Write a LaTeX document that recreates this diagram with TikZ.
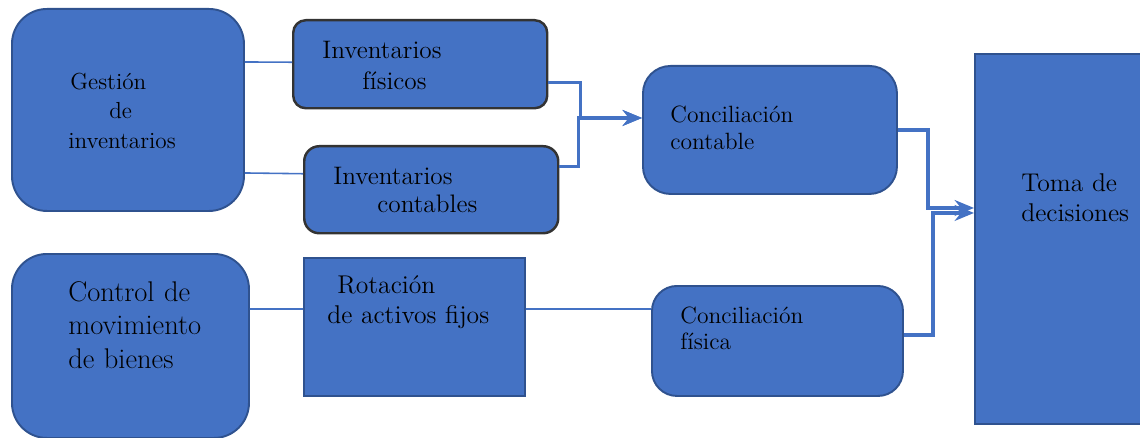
\documentclass[tikz,border=0pt]{standalone}
\usetikzlibrary{calc,arrows.meta}
\definecolor{boxfill}{HTML}{4472C4}
\definecolor{boxline}{HTML}{2F528F}

\begin{document}
\begin{tikzpicture}[x=0.2mm, y=-0.2mm,
    box/.style={draw=boxline, fill=boxfill, line width=1.1pt, anchor=north west, inner sep=0pt},
    darkbox/.style={box, draw=black!80, line width=1.4pt},
    txt/.style={anchor=base west, inner sep=0pt, text width=#1, align=left},
    link/.style={draw=boxfill, line width=0.9pt},
    flow/.style={draw=boxfill, line width=1.8pt, -{Stealth[length=11pt,width=9pt]}}]

  \useasboundingbox (0,0) rectangle (1140,438);

  % boxes
  \node[box, rounded corners=7mm, minimum width=46.4mm, minimum height=40.4mm] (gest) at (11,8) {};
  \node[darkbox, rounded corners=2.5mm, minimum width=50.8mm, minimum height=17.6mm] (invfis) at (292,19) {};
  \node[darkbox, rounded corners=3mm, minimum width=50.8mm, minimum height=17.4mm] (invcon) at (303,145) {};
  \node[box, rounded corners=5.5mm, minimum width=50.8mm, minimum height=25.6mm] (conccon) at (642,65) {};
  \node[box, minimum width=34.4mm, minimum height=74mm] (toma) at (974,53) {};
  \node[box, rounded corners=7mm, minimum width=47.4mm, minimum height=36.8mm] (ctrl) at (11,253) {};
  \node[box, minimum width=44.2mm, minimum height=27.6mm] (rot) at (303,257) {};
  \node[box, rounded corners=5mm, minimum width=50.2mm, minimum height=22mm] (concfis) at (651,285) {};

  % texts
  \node[txt=40mm, font=\fontsize{13.2}{17}\selectfont] (gest-t) at (68,89)
    {\hspace*{0.4mm}Gestión\\\hspace*{8.2mm}de\\inventarios};
  \node[txt=40mm, font=\fontsize{14.4}{17.6}\selectfont] (invfis-t) at (322,59)
    {Inventarios\\\hspace*{8mm}físicos};
  \node[txt=40mm, font=\fontsize{14.4}{16.5}\selectfont] (invcon-t) at (333,184)
    {Inventarios\\\hspace*{8.8mm}contables};
  \node[txt=40mm, font=\fontsize{13.4}{15.3}\selectfont] (conccon-t) at (670,123)
    {Conciliación\\contable};
  \node[txt=30mm, font=\fontsize{14.6}{17.6}\selectfont] (toma-t) at (1021,191)
    {Toma de\\decisiones};
  \node[txt=40mm, font=\fontsize{16.2}{19.2}\selectfont] (ctrl-t) at (68,301)
    {Control de\\movimiento\\de bienes};
  \node[txt=40mm, font=\fontsize{14.6}{17.6}\selectfont] (rot-t) at (327,293)
    {\hspace*{2mm}Rotación\\de activos fijos};
  \node[txt=40mm, font=\fontsize{13.4}{15.3}\selectfont] (concfis-t) at (680,323)
    {Conciliación\\física};

  % connectors
  \draw[link] ([yshift=9.6mm]gest.east) -- ([yshift=0.4mm]invfis.west);
  \draw[link] ([yshift=-12.6mm]gest.east) -- ([yshift=3.2mm]invcon.west);
  \draw[link] ([yshift=7.4mm]ctrl.east) -- ([yshift=3.6mm]rot.west);
  \draw[link] ([yshift=3.6mm]rot.east) -- ([yshift=6.4mm]concfis.west);
  \draw[flow] ([yshift=-3.6mm]invfis.east) -- ++(6.4mm,0) |- ([yshift=2.4mm]conccon.west);
  \draw[flow] ([yshift=4.6mm]invcon.east) -- ++(3.8mm,0) |- ([yshift=2.4mm]conccon.west);
  \draw[flow] (conccon.east) -- ++(6mm,0) |- ([yshift=6.2mm]toma.west);
  \draw[flow] ([yshift=1.2mm]concfis.east) -- ++(5.8mm,0) |- ([yshift=5.2mm]toma.west);
\end{tikzpicture}
\end{document}
